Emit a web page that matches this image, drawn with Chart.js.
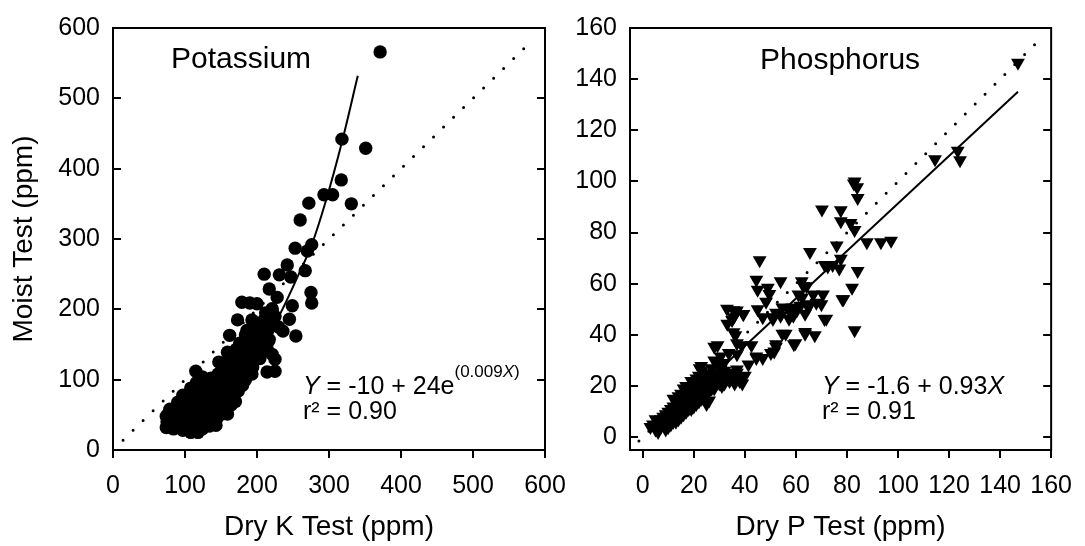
<!DOCTYPE html>
<html><head><meta charset="utf-8">
<script src="https://cdn.jsdelivr.net/npm/chart.js@4.4.1/dist/chart.umd.min.js"></script>
<style>
html,body{margin:0;padding:0;background:#fff;}
#wrap{position:relative;width:1085px;height:546px;overflow:hidden;background:#fff;}
.box{position:absolute;top:0;height:546px;}
#b1{left:0;width:580px;}
#b2{left:555px;width:530px;}
</style></head><body>
<div id="wrap"><div class="box" id="b1"><canvas id="c1"></canvas></div><div class="box" id="b2"><canvas id="c2"></canvas></div></div>
<script>
const FONT = "'Liberation Sans', Arial, Helvetica, sans-serif";

// ---------- Potassium ----------
const kDry = [371,318,351,317,331,293,305,272,260,253,276,270,242,231,247,267,210,217,228,275,276,249,221,179,190,200,173,193,198,245,221,236,254,162,184,200,217,221,225,214,225,193,182,171,159,147,168,180,193,180,115,124,108,98,85,74,74,88,97,108,118,143,170,159,147,134,147,157,166,
 75,77,80,79, 84,86,88,85,90,92, 94,96,95,98,97,100,102, 104,106,105,107,104,108,110, 114,116,115,117,114,118,116,120,
 124,126,125,127,124,128,126,130, 134,136,135,137,134,138,136,140, 145,146,147,144,148,146,150,142,
 154,156,155,157,154,158,156,160, 164,166,165,167,164,168,166, 174,176,175,177,174,178,176,
 184,186,185,187,184,188,186, 194,196,195,197,194,198, 204,206,205,207,204, 214,216,215,218,212, 225,230,210,221];
const kMoist = [566,442,429,384,350,363,363,351,327,287,292,283,263,249,246,255,250,229,217,224,209,205,201,210,209,208,185,185,181,186,182,169,162,163,164,162,157,136,129,111,112,132,143,143,139,125,125,120,108,92,112,104,88,74,58,48,32,32,28,25,25,35,69,51,72,92,92,106,111,
 40,52,36,58, 30,44,60,38,68,52, 34,42,56,66,78,46,36, 30,40,52,62,70,80,56, 30,40,50,62,74,84,96,46,
 30,40,52,64,76,88,98,58, 34,44,56,68,80,92,102,70, 46,58,70,82,96,108,80,40,
 52,62,72,84,96,108,118,128, 64,76,88,100,112,122,134, 84,96,108,118,130,142,152,
 100,112,122,134,146,158,170, 118,128,138,148,160,172, 130,140,150,162,175, 145,155,170,188,195, 190,175,185,199];
const kFitDry = [75,125,175,225,258,276,295,318,340];
const kFitMoist = [38,66,110,180,250,292,352,438,532];
const kOneDry = [14,583];
const kOneMoist = [14,583];
const kXTicks = [0,100,200,300,400,500,600];
const kYTicks = [0,100,200,300,400,500,600];

// ---------- Phosphorus ----------
const pDry = [147,123.4,124.3,114.5,83,84,84.2,70.2,77.6,77.6,81.4,83,87.8,93.3,97.3,65.5,76,45.8,72.5,77.6,77,84.2,44.5,45,49,54,49.6,48.3,45,82,78.6,63,62.4,66.8,70.6,70,71.2,65,60.4,57.2,63.6,59,54,51,52.2,83,63.6,67.4,56,59.2,52.2,51.5,47,44.5,41.4,42.6,33,35.6,39.4,35.6,35,36.9,29.3,28.6,31.8,36.9,22.3,26,
 82.7,74.4,71.3,62.3,64.2,61,68,64.9,61.7,58.5,54.7,50.9,47,57.3,71.9,78.2,54.7,59.8,63.6,52.2,50.2,44.5,38.8,36.3,33.1,36.9,39.4,35.6,28,30.5,33.7,36.9,22.9,25.4,30.5,34.4,36.9,
 4,5,6,7,8,8,9,10,10,11,12,12,13,14,14,15,16,16,17,18,18,19,20,20,21,22,22,23,24,24,25,26,26,27,28,29,30,31,32,34,36,20,22,24,25,17,15,12,27,28,30,38,40,
 3,5,6,7,9,9,10,11,11,12,13,13,14,15,15,16,17,17,18,19,19,20,21,21,22,23,23,24,25,25,26,27,28,29,30,31,32,33,35,37,39,19,21,23,16,14];
const pMoist = [146.4,112,108.3,108.7,100,97.7,93.5,89,88.7,84.4,83.8,81,76.2,76.2,76.8,72.4,75,69.2,66.7,69.8,66,65,61.6,57.7,58.4,61,56,53,50,58.4,53.9,59,54.6,55.8,55.8,52,46.2,52,49.6,49.6,48.3,47.5,47.5,46.2,48.7,41.8,41.1,39.9,40.5,36.3,36.3,33.5,31,31,28.4,36,50.2,49.6,48.2,41,45.8,32.4,36,29.7,29,25.2,27,14.4,
 99.2,67.3,67.3,61,59,55.8,52.6,50.7,51.4,50.7,50.7,46.9,46.9,46.3,46.3,53.9,40.5,36.7,40.5,35.4,32.9,31.6,36,39.9,44.4,49.5,48.2,46.9,35.4,31.6,32.9,36.7,27.8,24.6,26.5,25.2,26.5,
 5,3,6,4,8,5,3,7,10,5,9,12,6,10,13,8,12,15,10,14,17,11,15,19,13,17,21,15,19,22,17,21,24,19,22,25,21,23,21,22,21,22,24,25,13,20,17,15,27,30,28,22,24,
 4,7,2,7,6,9,4,8,11,6,9,11,7,11,14,9,13,16,11,15,18,12,16,20,14,18,22,16,20,23,18,22,19,23,24,20,26,23,24,23,21,22,23,26,19,16];
const pFitDry = [5,147];
const pFitMoist = [3.1,135.1];
const pOneDry = [-1.5,156];
const pOneMoist = [-1.5,156];
const pXTicks = [0,20,40,60,80,100,120,140,160];
const pYTicks = [0,20,40,60,80,100,120,140,160];

function pts(xs, ys){ return xs.map((x,i)=>({x:x, y:ys[i]})); }

function drawRich(ctx, x, y, parts){
  let cx = x;
  parts.forEach(p=>{
    const size = p.s || 24;
    ctx.font = (p.i ? 'italic ' : '') + size + 'px ' + FONT;
    ctx.fillText(p.t, cx, y + (p.dy||0));
    cx += ctx.measureText(p.t).width;
  });
}

const framePlugin = {
  id: 'frameAndText',
  afterDraw(chart, args, opts){
    const {ctx, chartArea:a, scales} = chart;
    const ys = scales.y;
    ctx.save();
    ctx.strokeStyle = '#000'; ctx.lineWidth = 2;
    ctx.strokeRect(a.left, a.top, a.right - a.left, a.bottom - a.top);
    ctx.beginPath();
    ys.ticks.forEach(t=>{
      const py = Math.round(ys.getPixelForValue(t.value));
      ctx.moveTo(a.left, py); ctx.lineTo(a.left + 8, py);
      ctx.moveTo(a.right, py); ctx.lineTo(a.right - 8, py);
    });
    ctx.stroke();
    ctx.fillStyle = '#000';
    ctx.textBaseline = 'alphabetic';
    ctx.textAlign = 'left';
    (opts.texts||[]).forEach(tx=>{
      drawRich(ctx, a.left + tx.dx, a.top + tx.dy, tx.parts);
    });
    ctx.restore();
  }
};

function makeChart(id, cfg){
  const tickFont = {family:FONT, size:25};
  return new Chart(document.getElementById(id), {
    type:'scatter',
    data:{datasets:[
      {type:'line', data:pts(cfg.fitX,cfg.fitY), showLine:true, pointRadius:0, borderColor:'#000', borderWidth:2, fill:false, cubicInterpolationMode:'monotone'},
      {type:'line', data:pts(cfg.oneX,cfg.oneY), showLine:true, pointRadius:0, borderColor:'#000', borderWidth:3, borderDash:[0,14], borderCapStyle:'round', fill:false},
      {data:pts(cfg.dx,cfg.dy), pointStyle:cfg.style, rotation:cfg.rot, pointRadius:cfg.r, pointHoverRadius:cfg.r, backgroundColor:'#000', borderColor:'#000', borderWidth:0}
    ]},
    options:{
      responsive:true, maintainAspectRatio:false, animation:false, devicePixelRatio:1,
      events:[],
      layout:{padding:{top:17, right:cfg.padRight, left:0, bottom:0}},
      plugins:{legend:{display:false}, tooltip:{enabled:false}, frameAndText:{texts:cfg.texts}},
      scales:{
        x:{type:'linear', min:cfg.xmin, max:cfg.xmax,
           afterBuildTicks:s=>{ s.ticks = cfg.xTicks.map(v=>({value:v})); },
           afterFit:s=>{ s.height = 96; },
           grid:{display:true, drawOnChartArea:false, drawTicks:true, tickLength:8, color:'#000', lineWidth:2, tickColor:'#000', tickWidth:2},
           border:{display:true, color:'#000', width:2},
           ticks:{color:'#000', font:tickFont, padding:13, maxRotation:0, autoSkip:false},
           title:{display:true, text:cfg.xTitle, color:'#000', font:{family:FONT, size:28}, padding:{top:0, bottom:2}}},
        y:{type:'linear', min:cfg.ymin, max:cfg.ymax,
           afterBuildTicks:s=>{ s.ticks = cfg.yTicks.map(v=>({value:v})); },
           afterFit:s=>{ s.width = cfg.yWidth; },
           grid:{display:true, drawOnChartArea:false, drawTicks:false},
           border:{display:true, color:'#000', width:2},
           ticks:{color:'#000', font:tickFont, padding:13, autoSkip:false},
           title:{display:!!cfg.yTitle, text:cfg.yTitle||'', color:'#000', font:{family:FONT, size:28}, padding:{top:7, bottom:0}}}
      }
    },
    plugins:[framePlugin]
  });
}

makeChart('c1', {
  dx:kDry, dy:kMoist, fitX:kFitDry, fitY:kFitMoist, oneX:kOneDry, oneY:kOneMoist,
  style:'circle', rot:0, r:6.7, xmin:0, xmax:600, ymin:0, ymax:600,
  xTicks:kXTicks, yTicks:kYTicks, yWidth:113, padRight:35,
  xTitle:'Dry K Test (ppm)', yTitle:'Moist Test (ppm)',
  texts:[
    {dx:58, dy:40, parts:[{t:'Potassium', s:30}]},
    {dx:190, dy:366, parts:[{t:'Y', i:1, s:25},{t:' = -10 + 24e', s:25},{t:'(0.009', s:17, dy:-17},{t:'X', i:1, s:17, dy:-17},{t:')', s:17, dy:-17}]},
    {dx:190, dy:391, parts:[{t:'r² = 0.90', s:25}]}
  ]
});

makeChart('c2', {
  dx:pDry, dy:pMoist, fitX:pFitDry, fitY:pFitMoist, oneX:pOneDry, oneY:pOneMoist,
  style:'triangle', rot:180, r:8, xmin:-5, xmax:160, ymin:-5, ymax:160,
  xTicks:pXTicks, yTicks:pYTicks, yWidth:75, padRight:22.7,
  xTitle:'Dry P Test (ppm)', yTitle:null,
  texts:[
    {dx:130, dy:41, parts:[{t:'Phosphorus', s:30}]},
    {dx:192, dy:366, parts:[{t:'Y', i:1, s:25},{t:' = -1.6 + 0.93', s:25},{t:'X', i:1, s:25}]},
    {dx:192, dy:391, parts:[{t:'r² = 0.91', s:25}]}
  ]
});
</script>
</body></html>
